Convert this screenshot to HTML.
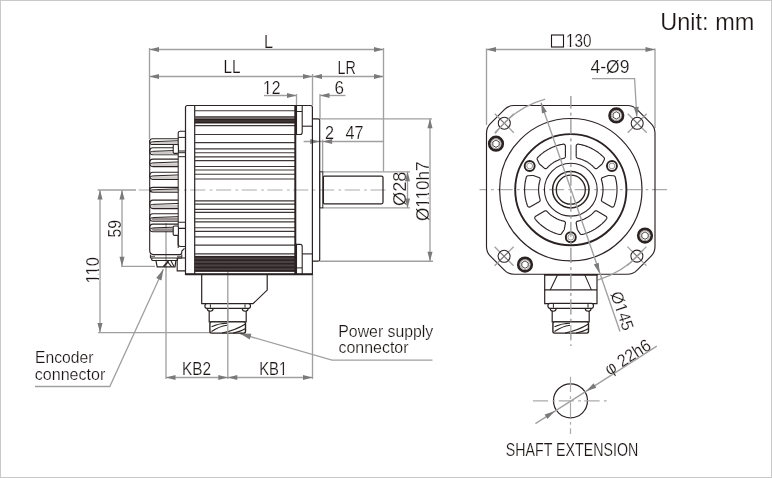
<!DOCTYPE html>
<html><head><meta charset="utf-8"><style>
html,body{margin:0;padding:0;background:#fff;width:772px;height:478px;overflow:hidden}
svg{display:block;will-change:transform}
text{font-family:"Liberation Sans", sans-serif;stroke:#fff;stroke-width:0.2px}
</style></head><body>
<svg width="772" height="478" viewBox="0 0 772 478">
<rect x="0.5" y="0.5" width="771" height="477" fill="#fff" stroke="#c9c9c9" stroke-width="1"/>
<text x="660.3" y="30.2" font-size="24" fill="#1c1515" text-anchor="start" textLength="94" lengthAdjust="spacingAndGlyphs" >Unit: mm</text>
<line x1="136" y1="190" x2="386" y2="190" stroke="#ababab" stroke-width="1.2" stroke-dasharray="15.2 4.3 2.7 3.55" stroke-dashoffset="23.05"/>
<line x1="149.5" y1="49.5" x2="383.5" y2="49.5" stroke="#a0a0a0" stroke-width="1.35" />
<polygon points="149.50,49.50 159.00,46.95 159.00,52.05" fill="#7a7a7a"/>
<polygon points="383.50,49.50 374.00,52.05 374.00,46.95" fill="#7a7a7a"/>
<text x="264" y="47.5" font-size="17.5" fill="#1c1515" text-anchor="start" textLength="9" lengthAdjust="spacingAndGlyphs" >L</text>
<line x1="149.5" y1="76.5" x2="312.5" y2="76.5" stroke="#a0a0a0" stroke-width="1.35" />
<polygon points="149.50,76.50 159.00,73.95 159.00,79.05" fill="#7a7a7a"/>
<polygon points="312.50,76.50 303.00,79.05 303.00,73.95" fill="#7a7a7a"/>
<text x="223.5" y="73.3" font-size="17.5" fill="#1c1515" text-anchor="start" textLength="17" lengthAdjust="spacingAndGlyphs" >LL</text>
<line x1="312.5" y1="76.5" x2="383.5" y2="76.5" stroke="#a0a0a0" stroke-width="1.35" />
<polygon points="312.50,76.50 322.00,73.95 322.00,79.05" fill="#7a7a7a"/>
<polygon points="383.50,76.50 374.00,79.05 374.00,73.95" fill="#7a7a7a"/>
<text x="337.6" y="74.2" font-size="17.5" fill="#1c1515" text-anchor="start" textLength="18.2" lengthAdjust="spacingAndGlyphs" >LR</text>
<line x1="264" y1="95.5" x2="296.5" y2="95.5" stroke="#a0a0a0" stroke-width="1.35" />
<polygon points="296.50,95.50 287.00,98.05 287.00,92.95" fill="#7a7a7a"/>
<text x="263" y="94.2" font-size="17.5" fill="#1c1515" text-anchor="start" textLength="17.5" lengthAdjust="spacingAndGlyphs" >12</text>
<g><rect x="263.74" y="92.19" width="3.14" height="2.24" fill="#fff"/><rect x="268.42" y="92.19" width="3.02" height="2.24" fill="#fff"/></g>
<line x1="320" y1="95.5" x2="345.5" y2="95.5" stroke="#a0a0a0" stroke-width="1.35" />
<polygon points="320.00,95.50 329.50,92.95 329.50,98.05" fill="#7a7a7a"/>
<text x="334.5" y="94.2" font-size="17.5" fill="#1c1515" text-anchor="start" textLength="9.5" lengthAdjust="spacingAndGlyphs" >6</text>
<line x1="149.5" y1="48" x2="149.5" y2="139" stroke="#a0a0a0" stroke-width="1.35" />
<line x1="383.5" y1="48" x2="383.5" y2="171.5" stroke="#a0a0a0" stroke-width="1.35" />
<line x1="312.5" y1="74" x2="312.5" y2="105.5" stroke="#a0a0a0" stroke-width="1.35" />
<line x1="296.5" y1="94" x2="296.5" y2="105.5" stroke="#a0a0a0" stroke-width="1.35" />
<line x1="320" y1="94" x2="320" y2="118.8" stroke="#a0a0a0" stroke-width="1.35" />
<line x1="303.6" y1="141.5" x2="383.5" y2="141.5" stroke="#a0a0a0" stroke-width="1.35" />
<polygon points="319.70,141.50 310.20,144.05 310.20,138.95" fill="#7a7a7a"/>
<polygon points="322.60,141.50 332.10,138.95 332.10,144.05" fill="#7a7a7a"/>
<line x1="322.6" y1="139.7" x2="322.6" y2="171.5" stroke="#a0a0a0" stroke-width="1.35" />
<text x="325" y="138.7" font-size="17.5" fill="#1c1515" text-anchor="start" textLength="9" lengthAdjust="spacingAndGlyphs" >2</text>
<text x="345.5" y="138.5" font-size="17.5" fill="#1c1515" text-anchor="start" textLength="18" lengthAdjust="spacingAndGlyphs" >47</text>
<line x1="320" y1="118.8" x2="432" y2="118.8" stroke="#a0a0a0" stroke-width="1.35" />
<line x1="320" y1="261.2" x2="433" y2="261.2" stroke="#a0a0a0" stroke-width="1.35" />
<line x1="430" y1="118.8" x2="430" y2="261.2" stroke="#a0a0a0" stroke-width="1.35" />
<polygon points="430.00,118.80 432.55,128.30 427.45,128.30" fill="#7a7a7a"/>
<polygon points="430.00,261.20 427.45,251.70 432.55,251.70" fill="#7a7a7a"/>
<line x1="322.8" y1="171.8" x2="410" y2="171.8" stroke="#a0a0a0" stroke-width="1.35" />
<line x1="322.8" y1="207.9" x2="410" y2="207.9" stroke="#a0a0a0" stroke-width="1.35" />
<line x1="407.5" y1="171.8" x2="407.5" y2="207.9" stroke="#a0a0a0" stroke-width="1.35" />
<polygon points="407.50,171.80 410.05,181.30 404.95,181.30" fill="#7a7a7a"/>
<polygon points="407.50,207.90 404.95,198.40 410.05,198.40" fill="#7a7a7a"/>
<text x="406.3" y="206" font-size="17.5" fill="#1c1515" text-anchor="start" textLength="34.5" lengthAdjust="spacingAndGlyphs" transform="rotate(-90 406.3 206)" >Ø28</text>
<text x="428.8" y="221" font-size="17.5" fill="#1c1515" text-anchor="start" textLength="59.5" lengthAdjust="spacingAndGlyphs" transform="rotate(-90 428.8 221)" >Ø110h7</text>
<g transform="rotate(-90 428.8 221)"><rect x="442.59" y="218.99" width="3.34" height="2.24" fill="#fff"/><rect x="447.57" y="218.99" width="3.21" height="2.24" fill="#fff"/><rect x="451.89" y="218.99" width="3.34" height="2.24" fill="#fff"/><rect x="456.87" y="218.99" width="3.21" height="2.24" fill="#fff"/></g>
<line x1="97.7" y1="190" x2="136" y2="190" stroke="#a0a0a0" stroke-width="1.35" />
<line x1="100" y1="190" x2="100" y2="332.5" stroke="#a0a0a0" stroke-width="1.35" />
<polygon points="100.00,190.00 102.55,199.50 97.45,199.50" fill="#7a7a7a"/>
<polygon points="100.00,332.50 97.45,323.00 102.55,323.00" fill="#7a7a7a"/>
<line x1="122" y1="190" x2="122" y2="266.3" stroke="#a0a0a0" stroke-width="1.35" />
<polygon points="122.00,190.00 124.55,199.50 119.45,199.50" fill="#7a7a7a"/>
<polygon points="122.00,266.30 119.45,256.80 124.55,256.80" fill="#7a7a7a"/>
<line x1="121" y1="266.3" x2="155" y2="266.3" stroke="#a0a0a0" stroke-width="1.35" />
<line x1="98" y1="332.6" x2="210" y2="332.6" stroke="#a0a0a0" stroke-width="1.35" />
<text x="120.5" y="237.5" font-size="17.5" fill="#1c1515" text-anchor="start" textLength="17.5" lengthAdjust="spacingAndGlyphs" transform="rotate(-90 120.5 237.5)" >59</text>
<text x="98.8" y="283.5" font-size="17.5" fill="#1c1515" text-anchor="start" textLength="26.5" lengthAdjust="spacingAndGlyphs" transform="rotate(-90 98.8 283.5)" >110</text>
<g transform="rotate(-90 98.8 283.5)"><rect x="99.54" y="281.49" width="3.17" height="2.24" fill="#fff"/><rect x="104.28" y="281.49" width="3.05" height="2.24" fill="#fff"/><rect x="108.38" y="281.49" width="3.17" height="2.24" fill="#fff"/><rect x="113.11" y="281.49" width="3.05" height="2.24" fill="#fff"/></g>
<line x1="166" y1="223" x2="166" y2="379" stroke="#a0a0a0" stroke-width="1.35" />
<line x1="227.8" y1="271" x2="227.8" y2="379" stroke="#a0a0a0" stroke-width="1.35" />
<line x1="312.5" y1="274.3" x2="312.5" y2="379" stroke="#a0a0a0" stroke-width="1.35" />
<line x1="166" y1="377.5" x2="227.8" y2="377.5" stroke="#a0a0a0" stroke-width="1.35" />
<polygon points="166.00,377.50 175.50,374.95 175.50,380.05" fill="#7a7a7a"/>
<polygon points="227.80,377.50 218.30,380.05 218.30,374.95" fill="#7a7a7a"/>
<line x1="227.8" y1="377.5" x2="312.5" y2="377.5" stroke="#a0a0a0" stroke-width="1.35" />
<polygon points="227.80,377.50 237.30,374.95 237.30,380.05" fill="#7a7a7a"/>
<polygon points="312.50,377.50 303.00,380.05 303.00,374.95" fill="#7a7a7a"/>
<text x="182" y="375" font-size="17.5" fill="#1c1515" text-anchor="start" textLength="29" lengthAdjust="spacingAndGlyphs" >KB2</text>
<text x="259.2" y="375" font-size="17.5" fill="#1c1515" text-anchor="start" textLength="28" lengthAdjust="spacingAndGlyphs" >KB1</text>
<g><rect x="279.66" y="372.99" width="2.96" height="2.24" fill="#fff"/><rect x="284.07" y="372.99" width="2.84" height="2.24" fill="#fff"/></g>
<path d="M35,386.5 H109.8 L163.4,269.3" stroke="#a0a0a0" stroke-width="1.3" fill="none" />
<polygon points="163.40,269.30 161.46,280.51 156.19,278.10" fill="#7a7a7a"/>
<path d="M432.5,360.1 H332 L240,333.6" stroke="#a0a0a0" stroke-width="1.3" fill="none" />
<polygon points="240.00,333.60 251.37,333.86 249.77,339.43" fill="#7a7a7a"/>
<text x="35" y="362.8" font-size="16.5" fill="#1c1515" text-anchor="start" textLength="58.5" lengthAdjust="spacingAndGlyphs" >Encoder</text>
<text x="34.8" y="380" font-size="16.5" fill="#1c1515" text-anchor="start" textLength="70.5" lengthAdjust="spacingAndGlyphs" >connector</text>
<text x="338.3" y="337" font-size="16.5" fill="#1c1515" text-anchor="start" textLength="95" lengthAdjust="spacingAndGlyphs" >Power supply</text>
<text x="338.5" y="352.7" font-size="16.5" fill="#1c1515" text-anchor="start" textLength="70" lengthAdjust="spacingAndGlyphs" >connector</text>
<path d="M185.5,274.3 V107.5 Q185.5,105.5 187.5,105.5 H310.4 Q312.4,105.5 312.4,107.5 V274.3 Z" stroke="#2b2323" stroke-width="1.2" fill="none" />
<line x1="194.7" y1="105.5" x2="194.7" y2="274.3" stroke="#2b2323" stroke-width="1.2" />
<line x1="194.7" y1="110.7" x2="295.3" y2="110.7" stroke="#3e3636" stroke-width="1.15" />
<line x1="194.7" y1="125.6" x2="295.3" y2="125.6" stroke="#3e3636" stroke-width="1.15" />
<line x1="194.7" y1="134.5" x2="295.3" y2="134.5" stroke="#3e3636" stroke-width="1.15" />
<line x1="194.7" y1="142.6" x2="295.3" y2="142.6" stroke="#3e3636" stroke-width="1.15" />
<line x1="194.7" y1="148.9" x2="295.3" y2="148.9" stroke="#3e3636" stroke-width="1.15" />
<line x1="194.7" y1="152.7" x2="295.3" y2="152.7" stroke="#3e3636" stroke-width="1.15" />
<line x1="194.7" y1="156.9" x2="295.3" y2="156.9" stroke="#3e3636" stroke-width="1.15" />
<line x1="194.7" y1="160.6" x2="295.3" y2="160.6" stroke="#3e3636" stroke-width="1.15" />
<line x1="194.7" y1="166.5" x2="295.3" y2="166.5" stroke="#3e3636" stroke-width="1.15" />
<line x1="194.7" y1="170" x2="295.3" y2="170" stroke="#3e3636" stroke-width="1.15" />
<line x1="194.7" y1="174.2" x2="295.3" y2="174.2" stroke="#3e3636" stroke-width="1.15" />
<line x1="194.7" y1="179" x2="295.3" y2="179" stroke="#3e3636" stroke-width="1.15" />
<line x1="194.7" y1="200.9" x2="295.3" y2="200.9" stroke="#3e3636" stroke-width="1.15" />
<line x1="194.7" y1="204.1" x2="295.3" y2="204.1" stroke="#3e3636" stroke-width="1.15" />
<line x1="194.7" y1="209.3" x2="295.3" y2="209.3" stroke="#3e3636" stroke-width="1.15" />
<line x1="194.7" y1="212.4" x2="295.3" y2="212.4" stroke="#3e3636" stroke-width="1.15" />
<line x1="194.7" y1="218.7" x2="295.3" y2="218.7" stroke="#3e3636" stroke-width="1.15" />
<line x1="194.7" y1="221.8" x2="295.3" y2="221.8" stroke="#3e3636" stroke-width="1.15" />
<line x1="194.7" y1="227.7" x2="295.3" y2="227.7" stroke="#3e3636" stroke-width="1.15" />
<line x1="194.7" y1="231.3" x2="295.3" y2="231.3" stroke="#3e3636" stroke-width="1.15" />
<line x1="194.7" y1="236.9" x2="295.3" y2="236.9" stroke="#3e3636" stroke-width="1.15" />
<line x1="194.7" y1="245.1" x2="295.3" y2="245.1" stroke="#3e3636" stroke-width="1.15" />
<line x1="194.7" y1="253.8" x2="295.3" y2="253.8" stroke="#3e3636" stroke-width="1.15" />
<rect x="194.7" y="116" width="100.6" height="2.6" fill="#6a6262"/>
<rect x="194.7" y="118.6" width="100.6" height="4.9" fill="#2a2020"/>
<rect x="194.7" y="120.4" width="100.6" height="1.2" fill="#4a4242"/>
<rect x="194.7" y="255.9" width="100.6" height="15.7" fill="#4a4242"/>
<line x1="194.7" y1="256.8" x2="295.3" y2="256.8" stroke="#2b2323" stroke-width="1.6" />
<line x1="194.7" y1="260.2" x2="295.3" y2="260.2" stroke="#2b2323" stroke-width="1.6" />
<line x1="194.7" y1="263.8" x2="295.3" y2="263.8" stroke="#2b2323" stroke-width="1.6" />
<line x1="194.7" y1="267.4" x2="295.3" y2="267.4" stroke="#2b2323" stroke-width="1.6" />
<line x1="194.7" y1="270.9" x2="295.3" y2="270.9" stroke="#2b2323" stroke-width="1.6" />
<line x1="185.5" y1="274.3" x2="312.4" y2="274.3" stroke="#2b2323" stroke-width="2" />
<line x1="295.3" y1="105.5" x2="295.3" y2="274.3" stroke="#2b2323" stroke-width="2" />
<path d="M296.5,105.8 V134.5 H300.2 Q302.2,134.5 302.2,132.5 V105.8" stroke="#2b2323" stroke-width="1.1" fill="none" />
<line x1="296.5" y1="111.5" x2="302.2" y2="111.5" stroke="#2b2323" stroke-width="1" />
<path d="M296.5,274.3 V244.4 H300.2 Q302.2,244.4 302.2,246.4 V274.3" stroke="#2b2323" stroke-width="1.1" fill="none" />
<line x1="296.5" y1="267.9" x2="302.2" y2="267.9" stroke="#2b2323" stroke-width="1" />
<line x1="302.2" y1="126.2" x2="312.4" y2="126.2" stroke="#2b2323" stroke-width="1.1" />
<line x1="302.2" y1="253.9" x2="312.4" y2="253.9" stroke="#2b2323" stroke-width="1.1" />
<path d="M312.4,118.8 H318.2 Q319.7,118.8 319.7,120.3 V259.7 Q319.7,261.2 318.2,261.2 H312.4" stroke="#2b2323" stroke-width="1.2" fill="none" />
<rect x="319.7" y="171.8" width="3.1" height="36.1" fill="none" stroke="#2b2323" stroke-width="1"/>
<path d="M323.4,177 Q323.4,176 324.4,176 H381.5 Q383,176 383,177.5 V202.3 Q383,203.8 381.5,203.8 H324.4 Q323.4,203.8 323.4,202.8 Z" stroke="#2b2323" stroke-width="1.25" fill="none" />
<path d="M178.2,138.8 H153 Q149.7,138.8 149.7,141.65 Q149.7,144.5 153,144.5 H178.2" stroke="#2b2323" stroke-width="1.1" fill="none" />
<path d="M151.5,141.95000000000002 H178.2 V143.9 H153 Q151.5,143.9 151.5,141.95000000000002 Z" fill="#cfcaca"/>
<path d="M150.3,142.45000000000002 Q152,141.45000000000002 156,141.55 L178.2,140.75" stroke="#2b2323" stroke-width="1.0" fill="none" />
<path d="M178.2,147.8 H153 Q149.7,147.8 149.7,151.3 Q149.7,154.8 153,154.8 H178.2" stroke="#2b2323" stroke-width="1.1" fill="none" />
<path d="M151.5,151.60000000000002 H178.2 V154.20000000000002 H153 Q151.5,154.20000000000002 151.5,151.60000000000002 Z" fill="#cfcaca"/>
<path d="M150.3,152.10000000000002 Q152,151.10000000000002 156,151.20000000000002 L178.2,150.4" stroke="#2b2323" stroke-width="1.0" fill="none" />
<path d="M178.2,159.1 H153 Q149.7,159.1 149.7,162.85 Q149.7,166.6 153,166.6 H178.2" stroke="#2b2323" stroke-width="1.1" fill="none" />
<path d="M151.5,163.15 H178.2 V166.0 H153 Q151.5,166.0 151.5,163.15 Z" fill="#cfcaca"/>
<path d="M150.3,163.65 Q152,162.65 156,162.75 L178.2,161.95" stroke="#2b2323" stroke-width="1.0" fill="none" />
<path d="M178.2,172.3 H153 Q149.7,172.3 149.7,175.85000000000002 Q149.7,179.4 153,179.4 H178.2" stroke="#2b2323" stroke-width="1.1" fill="none" />
<path d="M151.5,176.15000000000003 H178.2 V178.8 H153 Q151.5,178.8 151.5,176.15000000000003 Z" fill="#cfcaca"/>
<path d="M150.3,176.65000000000003 Q152,175.65000000000003 156,175.75000000000003 L178.2,174.95000000000002" stroke="#2b2323" stroke-width="1.0" fill="none" />
<path d="M178.2,187.4 H153 Q149.7,187.4 149.7,189.75 Q149.7,192.1 153,192.1 H178.2" stroke="#2b2323" stroke-width="1.1" fill="none" />
<path d="M151.5,190.05 H178.2 V191.5 H153 Q151.5,191.5 151.5,190.05 Z" fill="#cfcaca"/>
<path d="M150.3,190.55 Q152,189.55 156,189.65 L178.2,188.85" stroke="#2b2323" stroke-width="1.0" fill="none" />
<path d="M178.2,200.1 H153 Q149.7,200.1 149.7,204.35 Q149.7,208.6 153,208.6 H178.2" stroke="#2b2323" stroke-width="1.1" fill="none" />
<path d="M151.5,204.65 H178.2 V208.0 H153 Q151.5,208.0 151.5,204.65 Z" fill="#cfcaca"/>
<path d="M150.3,205.15 Q152,204.15 156,204.25 L178.2,203.45" stroke="#2b2323" stroke-width="1.0" fill="none" />
<path d="M178.2,213.8 H153 Q149.7,213.8 149.7,217.55 Q149.7,221.3 153,221.3 H178.2" stroke="#2b2323" stroke-width="1.1" fill="none" />
<path d="M151.5,217.85000000000002 H178.2 V220.70000000000002 H153 Q151.5,220.70000000000002 151.5,217.85000000000002 Z" fill="#9a9292"/>
<path d="M150.3,218.35000000000002 Q152,217.35000000000002 156,217.45000000000002 L178.2,216.65" stroke="#2b2323" stroke-width="1.0" fill="none" />
<path d="M178.2,224.1 H153 Q149.7,224.1 149.7,227.89999999999998 Q149.7,231.7 153,231.7 H178.2" stroke="#2b2323" stroke-width="1.1" fill="none" />
<path d="M151.5,228.2 H178.2 V231.1 H153 Q151.5,231.1 151.5,228.2 Z" fill="#9a9292"/>
<path d="M150.3,228.7 Q152,227.7 156,227.79999999999998 L178.2,226.99999999999997" stroke="#2b2323" stroke-width="1.0" fill="none" />
<path d="M149.7,232 V250.6 Q149.7,254.6 153.7,254.6 H179.8 Q181.8,254.6 181.8,252.6 V251 L184.5,248.3" stroke="#2b2323" stroke-width="1.1" fill="none" />
<line x1="149.7" y1="140" x2="149.7" y2="232" stroke="#2b2323" stroke-width="1.1" />
<line x1="178.2" y1="144.5" x2="178.2" y2="248" stroke="#2b2323" stroke-width="1.0" />
<path d="M178.2,151 V133.3 Q178.2,131.3 180.2,131.3 H185.5 V151 Z" stroke="#2b2323" stroke-width="1.1" fill="none" />
<line x1="178.2" y1="137.4" x2="185.5" y2="137.4" stroke="#2b2323" stroke-width="1" />
<line x1="178.2" y1="152.7" x2="185.5" y2="152.7" stroke="#2b2323" stroke-width="1" />
<line x1="178.2" y1="156.7" x2="185.5" y2="156.7" stroke="#2b2323" stroke-width="1" />
<rect x="173.2" y="144.5" width="5.2" height="8.9" rx="1.2" fill="#fff" stroke="#2b2323" stroke-width="1.1"/>
<path d="M178.2,222.2 H185.5 M178.2,228.4 H185.5 M178.2,228.4 V244 Q178.2,246.5 180.7,246.5 H185.5" stroke="#2b2323" stroke-width="1.1" fill="none" />
<rect x="173.2" y="226" width="5.2" height="9.4" rx="1.2" fill="#fff" stroke="#2b2323" stroke-width="1.1"/>
<path d="M177.2,258 H185.5 M177.2,258 V270.9 H185.5" stroke="#2b2323" stroke-width="1.1" fill="none" />
<path d="M150.4,254.6 V258 H181.8 V254.6" stroke="#2b2323" stroke-width="1.0" fill="none" />
<path d="M150.4,256.3 H155 M177,256.3 H181.8" stroke="#2b2323" stroke-width="0.8" fill="none" />
<path d="M151.7,258 V259.5 Q151.7,260.5 153,260.5 H176.3 Q177.6,260.5 177.6,259.5 V258" stroke="#2b2323" stroke-width="1.1" fill="none" />
<path d="M155.9,260.5 L157.2,266.8 H175 L175.9,260.5" stroke="#2b2323" stroke-width="1.2" fill="none" />
<path d="M163.5,266.6 L168.5,261.2" stroke="#2b2323" stroke-width="1.6" fill="none" />
<path d="M167,261 L171.5,266.6 M171,261 L174,266.5" stroke="#2b2323" stroke-width="1.1" fill="none" />
<path d="M201.7,274.3 V303.7 H253 L267.2,290.1 V274.3" stroke="#2b2323" stroke-width="1.2" fill="none" />
<path d="M206.89999999999998,303.7 H248.5 Q250.5,303.7 250.5,306.0 Q250.5,308.3 248.5,308.3 H206.89999999999998 Q204.89999999999998,308.3 204.89999999999998,306.0 Q204.89999999999998,303.7 206.89999999999998,303.7 Z" stroke="#2b2323" stroke-width="1.2" fill="#fff" />
<line x1="210.39999999999998" y1="304.3" x2="210.39999999999998" y2="307.7" stroke="#2b2323" stroke-width="1" />
<line x1="245.0" y1="304.3" x2="245.0" y2="307.7" stroke="#2b2323" stroke-width="1" />
<path d="M207.2,308.3 Q207.2,311.3 210.2,311.3 Q213.2,311.3 213.2,308.3" stroke="#2b2323" stroke-width="1.1" fill="none" />
<path d="M242.2,308.3 Q242.2,311.3 245.2,311.3 Q248.2,311.3 248.2,308.3" stroke="#2b2323" stroke-width="1.1" fill="none" />
<path d="M209.2,310.8 V321.9 H246.2 V310.8" stroke="#2b2323" stroke-width="1.2" fill="none" />
<path d="M211.7,321.9 H243.7 Q245.5,321.9 245.5,323.7 V331.3 Q245.5,333.1 243.7,333.1 H211.7 Q209.89999999999998,333.1 209.89999999999998,331.3 V323.7 Q209.89999999999998,321.9 211.7,321.9 Z" stroke="#2b2323" stroke-width="1.4" fill="#fff" />
<path d="M211.5,326.8 Q219.0,323.3 227.0,323.3 M211.5,331.5 Q219.0,326.5 227.0,325.3 M222.0,333 Q236.0,330 245.0,324.2 M233.0,333 Q241.0,331.5 245.0,328.8" stroke="#2b2323" stroke-width="1.1" fill="none" />
<line x1="227.8" y1="303" x2="227.8" y2="334" stroke="#a0a0a0" stroke-width="1.3" />
<line x1="479.5" y1="189.7" x2="667.8" y2="189.7" stroke="#ababab" stroke-width="1.2" stroke-dasharray="15.2 4.3 2.7 3.55" stroke-dashoffset="7.85"/>
<line x1="570.8" y1="96" x2="570.8" y2="346" stroke="#ababab" stroke-width="1.2" stroke-dasharray="15.2 4.3 2.7 3.55" stroke-dashoffset="2.65"/>
<line x1="486.5" y1="49.5" x2="655" y2="49.5" stroke="#a0a0a0" stroke-width="1.35" />
<polygon points="486.50,49.50 496.00,46.95 496.00,52.05" fill="#7a7a7a"/>
<polygon points="655.00,49.50 645.50,52.05 645.50,46.95" fill="#7a7a7a"/>
<line x1="486.5" y1="48.5" x2="486.5" y2="125" stroke="#a0a0a0" stroke-width="1.35" />
<line x1="655" y1="48.5" x2="655" y2="128" stroke="#a0a0a0" stroke-width="1.35" />
<rect x="551.5" y="35" width="12" height="12" fill="none" stroke="#1c1515" stroke-width="1.1"/>
<text x="566" y="47.3" font-size="17.5" fill="#1c1515" text-anchor="start" textLength="25.5" lengthAdjust="spacingAndGlyphs" >130</text>
<g><rect x="566.72" y="45.29" width="3.05" height="2.24" fill="#fff"/><rect x="571.27" y="45.29" width="2.93" height="2.24" fill="#fff"/></g>
<text x="590.5" y="73.4" font-size="17.5" fill="#1c1515" text-anchor="start" textLength="39" lengthAdjust="spacingAndGlyphs" >4-Ø9</text>
<path d="M504.61,109.39 Q508.5,105.5 514.00,105.50 L627.50,105.50 Q633,105.5 636.89,109.39 L651.11,123.61 Q655,127.5 655.00,133.00 L655.00,246.70 Q655,252.2 651.11,256.09 L636.89,270.31 Q633,274.2 627.50,274.20 L514.00,274.20 Q508.5,274.2 504.61,270.31 L490.39,256.09 Q486.5,252.2 486.50,246.70 L486.50,133.00 Q486.5,127.5 490.39,123.61 Z" stroke="#2b2323" stroke-width="1.15" fill="none" />
<circle cx="570.8" cy="189.7" r="71.2" stroke="#2b2323" stroke-width="1.2" fill="none"/>
<circle cx="570.8" cy="189.7" r="55.6" stroke="#2b2323" stroke-width="1.9" fill="none"/>
<circle cx="570.8" cy="189.7" r="26.4" stroke="#2b2323" stroke-width="1.1" fill="none"/>
<circle cx="570.8" cy="189.7" r="18.2" stroke="#2b2323" stroke-width="1.5" fill="none"/>
<circle cx="570.8" cy="189.7" r="14.5" stroke="#2b2323" stroke-width="1.3" fill="none"/>
<path d="M601.49,179.96 L601.44,179.78 L601.41,179.59 L601.40,179.39 L601.41,179.20 L601.43,179.01 L601.48,178.82 L601.54,178.64 L601.62,178.46 L601.71,178.29 L601.82,178.14 L601.95,177.99 L602.09,177.86 L602.24,177.74 L602.40,177.63 L602.57,177.54 L602.75,177.47 L608.33,175.56 L608.52,175.51 L608.71,175.47 L608.90,175.46 L609.10,175.46 L613.46,175.72 L613.65,175.74 L613.84,175.78 L614.02,175.84 L614.19,175.91 L614.36,176.00 L614.52,176.10 L614.67,176.22 L614.80,176.35 L614.93,176.50 L615.04,176.65 L615.13,176.82 L615.21,176.99 L615.27,177.17 L615.33,177.41 L615.34,177.44 L615.55,178.22 L615.56,178.26 L615.75,179.04 L615.76,179.08 L615.94,179.86 L615.95,179.90 L616.11,180.69 L616.12,180.72 L616.27,181.52 L616.28,181.55 L616.41,182.35 L616.42,182.39 L616.54,183.18 L616.54,183.22 L616.65,184.02 L616.65,184.05 L616.75,184.86 L616.75,184.89 L616.83,185.70 L616.83,185.73 L616.89,186.54 L616.89,186.57 L616.94,187.38 L616.94,187.41 L616.98,188.22 L616.98,188.26 L617.00,189.06 L617.00,189.10 L617.00,189.91 L617.00,189.94 L616.99,190.75 L616.99,190.79 L616.96,191.59 L616.96,191.63 L616.92,192.44 L616.92,192.47 L616.86,193.28 L616.86,193.31 L616.79,194.12 L616.78,194.15 L616.70,194.96 L616.70,194.99 L616.60,195.79 L616.59,195.83 L616.48,196.63 L616.47,196.66 L616.34,197.46 L616.34,197.50 L616.19,198.29 L616.19,198.33 L616.03,199.12 L616.02,199.15 L615.85,199.94 L615.84,199.98 L615.66,200.76 L615.65,200.80 L615.45,201.58 L615.44,201.61 L615.22,202.39 L615.21,202.43 L614.98,203.20 L614.97,203.23 L614.73,204.00 L614.72,204.04 L614.46,204.80 L614.45,204.84 L614.18,205.60 L614.17,205.63 L614.11,205.78 L614.03,205.96 L613.94,206.13 L613.83,206.29 L613.71,206.44 L613.57,206.57 L613.42,206.69 L613.26,206.80 L613.09,206.89 L612.91,206.96 L612.73,207.02 L612.54,207.06 L612.35,207.08 L612.15,207.08 L611.96,207.06 L611.77,207.02 L611.59,206.97 L611.41,206.90 L611.24,206.81 L602.42,201.72 L602.25,201.61 L602.10,201.49 L601.96,201.36 L601.84,201.21 L601.72,201.05 L601.63,200.88 L601.55,200.71 L601.49,200.52 L601.45,200.33 L601.42,200.14 L601.42,199.95 L601.43,199.76 L601.46,199.57 L601.51,199.38 L601.56,199.21 L601.57,199.19 L601.73,198.64 L601.74,198.62 L601.90,198.06 L601.90,198.04 L602.04,197.48 L602.05,197.47 L602.18,196.90 L602.19,196.89 L602.31,196.32 L602.32,196.30 L602.43,195.74 L602.43,195.72 L602.54,195.15 L602.54,195.13 L602.63,194.56 L602.63,194.54 L602.72,193.97 L602.72,193.95 L602.79,193.38 L602.79,193.36 L602.85,192.78 L602.85,192.77 L602.90,192.19 L602.90,192.17 L602.94,191.59 L602.95,191.58 L602.97,191.00 L602.97,190.98 L602.99,190.40 L602.99,190.38 L603.00,189.80 L603.00,189.79 L603.00,189.21 L603.00,189.19 L602.98,188.61 L602.98,188.59 L602.96,188.02 L602.95,188.00 L602.92,187.42 L602.92,187.40 L602.87,186.83 L602.87,186.81 L602.81,186.23 L602.81,186.21 L602.74,185.64 L602.74,185.62 L602.66,185.05 L602.66,185.03 L602.57,184.46 L602.57,184.44 L602.47,183.87 L602.46,183.85 L602.35,183.28 L602.35,183.27 L602.23,182.70 L602.23,182.68 L602.09,182.12 L602.09,182.10 L601.95,181.54 L601.94,181.52 L601.79,180.96 L601.79,180.95 L601.63,180.39 L601.62,180.37 L601.49,179.96 Z" stroke="#2b2323" stroke-width="1.15" fill="none" />
<path d="M577.77,158.27 L577.59,158.22 L577.41,158.15 L577.23,158.06 L577.07,157.96 L576.91,157.84 L576.77,157.71 L576.64,157.57 L576.53,157.41 L576.43,157.24 L576.35,157.07 L576.28,156.88 L576.24,156.70 L576.21,156.50 L576.20,156.31 L576.20,146.13 L576.21,145.93 L576.24,145.74 L576.28,145.56 L576.35,145.37 L576.43,145.20 L576.52,145.03 L576.64,144.88 L576.76,144.73 L576.91,144.60 L577.06,144.48 L577.22,144.38 L577.39,144.29 L577.57,144.23 L577.76,144.17 L577.95,144.14 L578.14,144.13 L578.33,144.13 L578.52,144.15 L578.69,144.18 L578.72,144.18 L579.51,144.33 L579.55,144.34 L580.34,144.50 L580.38,144.50 L581.16,144.68 L581.20,144.69 L581.98,144.87 L582.02,144.88 L582.80,145.09 L582.84,145.10 L583.61,145.31 L583.65,145.32 L584.42,145.55 L584.46,145.56 L585.22,145.81 L585.26,145.82 L586.02,146.08 L586.06,146.09 L586.82,146.37 L586.85,146.38 L587.61,146.67 L587.64,146.68 L588.39,146.98 L588.42,146.99 L589.17,147.31 L589.20,147.32 L589.94,147.65 L589.97,147.66 L590.70,148.01 L590.73,148.02 L591.46,148.38 L591.49,148.39 L592.21,148.76 L592.24,148.78 L592.95,149.16 L592.98,149.17 L593.69,149.57 L593.72,149.59 L594.42,149.99 L594.45,150.01 L595.14,150.43 L595.17,150.45 L595.85,150.88 L595.88,150.90 L596.56,151.35 L596.59,151.37 L597.25,151.82 L597.28,151.84 L597.94,152.31 L597.97,152.33 L598.62,152.81 L598.64,152.83 L599.28,153.33 L599.31,153.35 L599.94,153.85 L599.97,153.87 L600.59,154.39 L600.62,154.41 L601.23,154.94 L601.26,154.96 L601.86,155.50 L601.89,155.53 L602.48,156.07 L602.51,156.10 L603.09,156.66 L603.12,156.68 L603.69,157.25 L603.71,157.28 L603.88,157.45 L604.01,157.60 L604.12,157.75 L604.22,157.91 L604.30,158.09 L604.36,158.26 L604.41,158.45 L604.44,158.64 L604.45,158.82 L604.44,159.01 L604.42,159.20 L604.37,159.39 L604.31,159.57 L604.24,159.74 L602.28,163.65 L602.19,163.82 L602.07,163.98 L601.95,164.13 L601.81,164.26 L597.36,168.14 L597.21,168.26 L597.05,168.37 L596.88,168.45 L596.70,168.53 L596.52,168.58 L596.33,168.62 L596.13,168.63 L595.94,168.63 L595.75,168.61 L595.56,168.57 L595.38,168.52 L595.20,168.44 L595.03,168.35 L594.87,168.25 L594.72,168.12 L594.58,167.99 L594.29,167.67 L594.27,167.66 L593.87,167.24 L593.86,167.23 L593.45,166.82 L593.44,166.80 L593.03,166.40 L593.01,166.39 L592.59,165.99 L592.58,165.98 L592.15,165.59 L592.13,165.58 L591.70,165.20 L591.68,165.19 L591.24,164.82 L591.23,164.81 L590.77,164.44 L590.76,164.43 L590.30,164.08 L590.29,164.07 L589.83,163.72 L589.81,163.71 L589.34,163.37 L589.33,163.36 L588.85,163.03 L588.83,163.02 L588.35,162.70 L588.34,162.69 L587.85,162.38 L587.83,162.37 L587.34,162.07 L587.32,162.06 L586.83,161.77 L586.81,161.76 L586.30,161.48 L586.29,161.47 L585.78,161.20 L585.76,161.19 L585.25,160.92 L585.23,160.92 L584.71,160.66 L584.70,160.65 L584.17,160.41 L584.16,160.40 L583.63,160.17 L583.61,160.16 L583.08,159.93 L583.06,159.93 L582.52,159.71 L582.51,159.70 L581.97,159.50 L581.95,159.49 L581.40,159.30 L581.39,159.29 L580.84,159.10 L580.82,159.10 L580.27,158.92 L580.25,158.92 L579.70,158.75 L579.68,158.75 L579.12,158.59 L579.11,158.59 L578.55,158.45 L578.53,158.44 L577.96,158.31 L577.95,158.30 L577.77,158.27 Z" stroke="#2b2323" stroke-width="1.15" fill="none" />
<path d="M537.36,159.74 L537.29,159.57 L537.23,159.39 L537.18,159.20 L537.16,159.01 L537.15,158.82 L537.16,158.64 L537.19,158.45 L537.24,158.26 L537.30,158.09 L537.38,157.91 L537.48,157.75 L537.59,157.60 L537.72,157.45 L537.89,157.28 L537.91,157.25 L538.48,156.68 L538.51,156.66 L539.09,156.10 L539.12,156.07 L539.71,155.53 L539.74,155.50 L540.34,154.96 L540.37,154.94 L540.98,154.41 L541.01,154.39 L541.63,153.87 L541.66,153.85 L542.29,153.35 L542.32,153.33 L542.96,152.83 L542.98,152.81 L543.63,152.33 L543.66,152.31 L544.32,151.84 L544.35,151.82 L545.01,151.37 L545.04,151.35 L545.72,150.90 L545.75,150.88 L546.43,150.45 L546.46,150.43 L547.15,150.01 L547.18,149.99 L547.88,149.59 L547.91,149.57 L548.62,149.17 L548.65,149.16 L549.36,148.78 L549.39,148.76 L550.11,148.39 L550.14,148.38 L550.87,148.02 L550.90,148.01 L551.63,147.66 L551.66,147.65 L552.40,147.32 L552.43,147.31 L553.18,146.99 L553.21,146.98 L553.96,146.68 L553.99,146.67 L554.75,146.38 L554.78,146.37 L555.54,146.09 L555.58,146.08 L556.34,145.82 L556.38,145.81 L557.14,145.56 L557.18,145.55 L557.95,145.32 L557.99,145.31 L558.76,145.10 L558.80,145.09 L559.58,144.88 L559.62,144.87 L560.40,144.69 L560.44,144.68 L561.22,144.50 L561.26,144.50 L562.05,144.34 L562.09,144.33 L562.88,144.18 L562.91,144.18 L563.08,144.15 L563.27,144.13 L563.46,144.13 L563.65,144.14 L563.84,144.17 L564.03,144.23 L564.21,144.29 L564.38,144.38 L564.54,144.48 L564.69,144.60 L564.84,144.73 L564.96,144.88 L565.08,145.03 L565.17,145.20 L565.25,145.37 L565.32,145.56 L565.36,145.74 L565.39,145.93 L565.40,146.13 L565.40,156.31 L565.39,156.50 L565.36,156.70 L565.32,156.88 L565.25,157.07 L565.17,157.24 L565.07,157.41 L564.96,157.57 L564.83,157.71 L564.69,157.84 L564.53,157.96 L564.37,158.06 L564.19,158.15 L564.01,158.22 L563.83,158.27 L563.65,158.30 L563.64,158.31 L563.07,158.44 L563.05,158.45 L562.49,158.59 L562.48,158.59 L561.92,158.75 L561.90,158.75 L561.35,158.92 L561.33,158.92 L560.78,159.10 L560.76,159.10 L560.21,159.29 L560.20,159.30 L559.65,159.49 L559.63,159.50 L559.09,159.70 L559.08,159.71 L558.54,159.93 L558.52,159.93 L557.99,160.16 L557.97,160.17 L557.44,160.40 L557.43,160.41 L556.90,160.65 L556.89,160.66 L556.37,160.92 L556.35,160.92 L555.84,161.19 L555.82,161.20 L555.31,161.47 L555.30,161.48 L554.79,161.76 L554.77,161.77 L554.28,162.06 L554.26,162.07 L553.77,162.37 L553.75,162.38 L553.26,162.69 L553.25,162.70 L552.77,163.02 L552.75,163.03 L552.27,163.36 L552.26,163.37 L551.79,163.71 L551.77,163.72 L551.31,164.07 L551.30,164.08 L550.84,164.43 L550.83,164.44 L550.37,164.81 L550.36,164.82 L549.92,165.19 L549.90,165.20 L549.47,165.58 L549.45,165.59 L549.02,165.98 L549.01,165.99 L548.59,166.39 L548.57,166.40 L548.16,166.80 L548.15,166.82 L547.74,167.23 L547.73,167.24 L547.33,167.66 L547.31,167.67 L547.02,167.99 L546.88,168.12 L546.73,168.25 L546.57,168.35 L546.40,168.44 L546.22,168.52 L546.04,168.57 L545.85,168.61 L545.66,168.63 L545.47,168.63 L545.27,168.62 L545.08,168.58 L544.90,168.53 L544.72,168.45 L544.55,168.37 L544.39,168.26 L544.24,168.14 L539.79,164.26 L539.65,164.13 L539.53,163.98 L539.41,163.82 L539.32,163.65 L537.36,159.74 Z" stroke="#2b2323" stroke-width="1.15" fill="none" />
<path d="M526.33,177.17 L526.39,176.99 L526.47,176.82 L526.56,176.65 L526.67,176.50 L526.80,176.35 L526.93,176.22 L527.08,176.10 L527.24,176.00 L527.41,175.91 L527.58,175.84 L527.76,175.78 L527.95,175.74 L528.14,175.72 L532.50,175.46 L532.70,175.46 L532.89,175.47 L533.08,175.51 L533.27,175.56 L538.85,177.47 L539.03,177.54 L539.20,177.63 L539.36,177.74 L539.51,177.86 L539.65,177.99 L539.78,178.14 L539.89,178.29 L539.98,178.46 L540.06,178.64 L540.12,178.82 L540.17,179.01 L540.19,179.20 L540.20,179.39 L540.19,179.59 L540.16,179.78 L540.11,179.96 L539.98,180.37 L539.97,180.39 L539.81,180.95 L539.81,180.96 L539.66,181.52 L539.65,181.54 L539.51,182.10 L539.51,182.12 L539.37,182.68 L539.37,182.70 L539.25,183.27 L539.25,183.28 L539.14,183.85 L539.13,183.87 L539.03,184.44 L539.03,184.46 L538.94,185.03 L538.94,185.05 L538.86,185.62 L538.86,185.64 L538.79,186.21 L538.79,186.23 L538.73,186.81 L538.73,186.83 L538.68,187.40 L538.68,187.42 L538.65,188.00 L538.64,188.02 L538.62,188.59 L538.62,188.61 L538.60,189.19 L538.60,189.21 L538.60,189.79 L538.60,189.80 L538.61,190.38 L538.61,190.40 L538.63,190.98 L538.63,191.00 L538.65,191.58 L538.66,191.59 L538.70,192.17 L538.70,192.19 L538.75,192.77 L538.75,192.78 L538.81,193.36 L538.81,193.38 L538.88,193.95 L538.88,193.97 L538.97,194.54 L538.97,194.56 L539.06,195.13 L539.06,195.15 L539.17,195.72 L539.17,195.74 L539.28,196.30 L539.29,196.32 L539.41,196.89 L539.42,196.90 L539.55,197.47 L539.56,197.48 L539.70,198.04 L539.70,198.06 L539.86,198.62 L539.87,198.64 L540.03,199.19 L540.04,199.21 L540.09,199.38 L540.14,199.57 L540.17,199.76 L540.18,199.95 L540.18,200.14 L540.15,200.33 L540.11,200.52 L540.05,200.71 L539.97,200.88 L539.88,201.05 L539.76,201.21 L539.64,201.36 L539.50,201.49 L539.35,201.61 L539.18,201.72 L530.36,206.81 L530.19,206.90 L530.01,206.97 L529.83,207.02 L529.64,207.06 L529.45,207.08 L529.25,207.08 L529.06,207.06 L528.87,207.02 L528.69,206.96 L528.51,206.89 L528.34,206.80 L528.18,206.69 L528.03,206.57 L527.89,206.44 L527.77,206.29 L527.66,206.13 L527.57,205.96 L527.49,205.78 L527.43,205.63 L527.42,205.60 L527.15,204.84 L527.14,204.80 L526.88,204.04 L526.87,204.00 L526.63,203.23 L526.62,203.20 L526.39,202.43 L526.38,202.39 L526.16,201.61 L526.15,201.58 L525.95,200.80 L525.94,200.76 L525.76,199.98 L525.75,199.94 L525.58,199.15 L525.57,199.12 L525.41,198.33 L525.41,198.29 L525.26,197.50 L525.26,197.46 L525.13,196.66 L525.12,196.63 L525.01,195.83 L525.00,195.79 L524.90,194.99 L524.90,194.96 L524.82,194.15 L524.81,194.12 L524.74,193.31 L524.74,193.28 L524.68,192.47 L524.68,192.44 L524.64,191.63 L524.64,191.59 L524.61,190.79 L524.61,190.75 L524.60,189.94 L524.60,189.91 L524.60,189.10 L524.60,189.06 L524.62,188.26 L524.62,188.22 L524.66,187.41 L524.66,187.38 L524.71,186.57 L524.71,186.54 L524.77,185.73 L524.77,185.70 L524.85,184.89 L524.85,184.86 L524.95,184.05 L524.95,184.02 L525.06,183.22 L525.06,183.18 L525.18,182.39 L525.19,182.35 L525.32,181.55 L525.33,181.52 L525.48,180.72 L525.49,180.69 L525.65,179.90 L525.66,179.86 L525.84,179.08 L525.85,179.04 L526.04,178.26 L526.05,178.22 L526.26,177.44 L526.27,177.41 L526.33,177.17 Z" stroke="#2b2323" stroke-width="1.15" fill="none" />
<path d="M535.22,219.16 L535.10,219.01 L535.00,218.84 L534.92,218.67 L534.85,218.49 L534.80,218.30 L534.77,218.11 L534.76,217.92 L534.77,217.73 L534.80,217.54 L534.84,217.35 L534.90,217.17 L534.98,216.99 L535.07,216.82 L535.19,216.67 L535.31,216.52 L535.45,216.39 L535.60,216.27 L535.76,216.16 L544.58,211.07 L544.76,210.98 L544.94,210.91 L545.12,210.86 L545.31,210.82 L545.51,210.80 L545.70,210.81 L545.89,210.83 L546.08,210.87 L546.27,210.92 L546.45,211.00 L546.62,211.09 L546.78,211.20 L546.93,211.32 L547.06,211.46 L547.18,211.59 L547.20,211.60 L547.59,212.02 L547.61,212.03 L548.01,212.45 L548.02,212.46 L548.44,212.87 L548.45,212.88 L548.87,213.28 L548.88,213.29 L549.31,213.68 L549.32,213.69 L549.76,214.07 L549.77,214.09 L550.21,214.46 L550.23,214.47 L550.68,214.84 L550.69,214.85 L551.14,215.20 L551.16,215.22 L551.62,215.56 L551.64,215.58 L552.10,215.92 L552.12,215.93 L552.59,216.26 L552.61,216.27 L553.09,216.59 L553.10,216.60 L553.59,216.91 L553.60,216.92 L554.10,217.23 L554.11,217.24 L554.61,217.53 L554.63,217.54 L555.13,217.83 L555.14,217.84 L555.65,218.11 L555.67,218.12 L556.18,218.39 L556.20,218.40 L556.72,218.66 L556.73,218.66 L557.25,218.91 L557.27,218.92 L557.80,219.16 L557.81,219.17 L558.35,219.39 L558.36,219.40 L558.90,219.62 L558.92,219.63 L559.45,219.84 L559.47,219.84 L560.02,220.04 L560.03,220.05 L560.58,220.23 L560.60,220.24 L561.15,220.42 L561.16,220.42 L561.72,220.59 L561.74,220.60 L562.29,220.76 L562.31,220.76 L562.87,220.91 L562.89,220.91 L563.45,221.05 L563.47,221.05 L563.89,221.15 L564.07,221.20 L564.25,221.27 L564.43,221.35 L564.59,221.46 L564.74,221.57 L564.88,221.71 L565.01,221.85 L565.12,222.01 L565.22,222.17 L565.30,222.35 L565.37,222.53 L565.41,222.72 L565.44,222.91 L565.45,223.10 L565.44,223.29 L565.41,223.48 L564.28,229.27 L564.23,229.46 L564.16,229.64 L564.08,229.82 L563.98,229.99 L561.57,233.64 L561.46,233.79 L561.33,233.93 L561.20,234.06 L561.05,234.18 L560.88,234.28 L560.72,234.36 L560.54,234.43 L560.36,234.48 L560.17,234.52 L559.98,234.53 L559.79,234.53 L559.60,234.51 L559.42,234.47 L559.18,234.41 L559.14,234.40 L558.36,234.19 L558.33,234.18 L557.55,233.96 L557.52,233.95 L556.75,233.71 L556.71,233.70 L555.95,233.45 L555.91,233.44 L555.15,233.17 L555.12,233.16 L554.36,232.88 L554.33,232.86 L553.58,232.57 L553.54,232.56 L552.80,232.25 L552.76,232.23 L552.02,231.91 L551.99,231.90 L551.25,231.56 L551.22,231.55 L550.49,231.20 L550.46,231.18 L549.74,230.82 L549.71,230.80 L548.99,230.43 L548.96,230.41 L548.25,230.02 L548.22,230.01 L547.52,229.61 L547.49,229.59 L546.80,229.17 L546.77,229.16 L546.08,228.73 L546.05,228.71 L545.37,228.27 L545.34,228.25 L544.67,227.80 L544.64,227.78 L543.98,227.32 L543.95,227.30 L543.30,226.82 L543.27,226.80 L542.63,226.31 L542.60,226.29 L541.96,225.79 L541.93,225.77 L541.31,225.26 L541.28,225.24 L540.66,224.72 L540.64,224.69 L540.03,224.16 L540.00,224.14 L539.41,223.59 L539.38,223.57 L538.79,223.02 L538.77,222.99 L538.19,222.43 L538.16,222.40 L537.60,221.83 L537.57,221.80 L537.02,221.21 L536.99,221.19 L536.45,220.59 L536.42,220.56 L535.89,219.96 L535.87,219.93 L535.34,219.32 L535.32,219.29 L535.22,219.16 Z" stroke="#2b2323" stroke-width="1.15" fill="none" />
<path d="M576.19,223.48 L576.16,223.29 L576.15,223.10 L576.16,222.91 L576.19,222.72 L576.23,222.53 L576.30,222.35 L576.38,222.17 L576.48,222.01 L576.59,221.85 L576.72,221.71 L576.86,221.57 L577.01,221.46 L577.17,221.35 L577.35,221.27 L577.53,221.20 L577.71,221.15 L578.13,221.05 L578.15,221.05 L578.71,220.91 L578.73,220.91 L579.29,220.76 L579.31,220.76 L579.86,220.60 L579.88,220.59 L580.44,220.42 L580.45,220.42 L581.00,220.24 L581.02,220.23 L581.57,220.05 L581.58,220.04 L582.13,219.84 L582.15,219.84 L582.68,219.63 L582.70,219.62 L583.24,219.40 L583.25,219.39 L583.79,219.17 L583.80,219.16 L584.33,218.92 L584.35,218.91 L584.87,218.66 L584.88,218.66 L585.40,218.40 L585.42,218.39 L585.93,218.12 L585.95,218.11 L586.46,217.84 L586.47,217.83 L586.97,217.54 L586.99,217.53 L587.49,217.24 L587.50,217.23 L588.00,216.92 L588.01,216.91 L588.50,216.60 L588.51,216.59 L588.99,216.27 L589.01,216.26 L589.48,215.93 L589.50,215.92 L589.96,215.58 L589.98,215.56 L590.44,215.22 L590.46,215.20 L590.91,214.85 L590.92,214.84 L591.37,214.47 L591.39,214.46 L591.83,214.09 L591.84,214.07 L592.28,213.69 L592.29,213.68 L592.72,213.29 L592.73,213.28 L593.15,212.88 L593.16,212.87 L593.58,212.46 L593.59,212.45 L593.99,212.03 L594.01,212.02 L594.40,211.60 L594.42,211.59 L594.54,211.46 L594.67,211.32 L594.82,211.20 L594.98,211.09 L595.15,211.00 L595.33,210.92 L595.52,210.87 L595.71,210.83 L595.90,210.81 L596.09,210.80 L596.29,210.82 L596.48,210.86 L596.66,210.91 L596.84,210.98 L597.02,211.07 L605.84,216.16 L606.00,216.27 L606.15,216.39 L606.29,216.52 L606.41,216.67 L606.53,216.82 L606.62,216.99 L606.70,217.17 L606.76,217.35 L606.80,217.54 L606.83,217.73 L606.84,217.92 L606.83,218.11 L606.80,218.30 L606.75,218.49 L606.68,218.67 L606.60,218.84 L606.50,219.01 L606.38,219.16 L606.28,219.29 L606.26,219.32 L605.73,219.93 L605.71,219.96 L605.18,220.56 L605.15,220.59 L604.61,221.19 L604.58,221.21 L604.03,221.80 L604.00,221.83 L603.44,222.40 L603.41,222.43 L602.83,222.99 L602.81,223.02 L602.22,223.57 L602.19,223.59 L601.60,224.14 L601.57,224.16 L600.96,224.69 L600.94,224.72 L600.32,225.24 L600.29,225.26 L599.67,225.77 L599.64,225.79 L599.00,226.29 L598.97,226.31 L598.33,226.80 L598.30,226.82 L597.65,227.30 L597.62,227.32 L596.96,227.78 L596.93,227.80 L596.26,228.25 L596.23,228.27 L595.55,228.71 L595.52,228.73 L594.83,229.16 L594.80,229.17 L594.11,229.59 L594.08,229.61 L593.38,230.01 L593.35,230.02 L592.64,230.41 L592.61,230.43 L591.89,230.80 L591.86,230.82 L591.14,231.18 L591.11,231.20 L590.38,231.55 L590.35,231.56 L589.61,231.90 L589.58,231.91 L588.84,232.23 L588.80,232.25 L588.06,232.56 L588.02,232.57 L587.27,232.86 L587.24,232.88 L586.48,233.16 L586.45,233.17 L585.69,233.44 L585.65,233.45 L584.89,233.70 L584.85,233.71 L584.08,233.95 L584.05,233.96 L583.27,234.18 L583.24,234.19 L582.46,234.40 L582.42,234.41 L582.18,234.47 L582.00,234.51 L581.81,234.53 L581.62,234.53 L581.43,234.52 L581.24,234.48 L581.06,234.43 L580.88,234.36 L580.72,234.28 L580.55,234.18 L580.40,234.06 L580.27,233.93 L580.14,233.79 L580.03,233.64 L577.62,229.99 L577.52,229.82 L577.44,229.64 L577.37,229.46 L577.32,229.27 L576.19,223.48 Z" stroke="#2b2323" stroke-width="1.15" fill="none" />
<circle cx="611.94" cy="165.95" r="5.0" stroke="#2b2323" stroke-width="1.9" fill="#fff"/>
<circle cx="611.94" cy="165.95" r="2.9" stroke="#8a8484" stroke-width="0.9" fill="none"/>
<circle cx="529.66" cy="165.95" r="5.0" stroke="#2b2323" stroke-width="1.9" fill="#fff"/>
<circle cx="529.66" cy="165.95" r="2.9" stroke="#8a8484" stroke-width="0.9" fill="none"/>
<circle cx="570.8" cy="237.2" r="5.0" stroke="#2b2323" stroke-width="1.9" fill="#fff"/>
<circle cx="570.8" cy="237.2" r="2.9" stroke="#8a8484" stroke-width="0.9" fill="none"/>
<circle cx="616.3" cy="115.4" r="6.75" stroke="#2b2323" stroke-width="2.7" fill="#fff"/>
<circle cx="616.3" cy="115.4" r="5.0" stroke="#8f8989" stroke-width="0.8" fill="none"/>
<polygon points="616.30,111.70 619.50,113.55 619.50,117.25 616.30,119.10 613.10,117.25 613.10,113.55" fill="none" stroke="#2b2323" stroke-width="0.85"/>
<circle cx="496" cy="143.7" r="6.75" stroke="#2b2323" stroke-width="2.7" fill="#fff"/>
<circle cx="496" cy="143.7" r="5.0" stroke="#8f8989" stroke-width="0.8" fill="none"/>
<polygon points="496.00,140.00 499.20,141.85 499.20,145.55 496.00,147.40 492.80,145.55 492.80,141.85" fill="none" stroke="#2b2323" stroke-width="0.85"/>
<circle cx="525" cy="264.6" r="6.75" stroke="#2b2323" stroke-width="2.7" fill="#fff"/>
<circle cx="525" cy="264.6" r="5.0" stroke="#8f8989" stroke-width="0.8" fill="none"/>
<polygon points="525.00,260.90 528.20,262.75 528.20,266.45 525.00,268.30 521.80,266.45 521.80,262.75" fill="none" stroke="#2b2323" stroke-width="0.85"/>
<circle cx="645" cy="235.6" r="6.75" stroke="#2b2323" stroke-width="2.7" fill="#fff"/>
<circle cx="645" cy="235.6" r="5.0" stroke="#8f8989" stroke-width="0.8" fill="none"/>
<polygon points="645.00,231.90 648.20,233.75 648.20,237.45 645.00,239.30 641.80,237.45 641.80,233.75" fill="none" stroke="#2b2323" stroke-width="0.85"/>
<line x1="494.8" y1="113.7" x2="513.8" y2="132.7" stroke="#a0a0a0" stroke-width="1.3" />
<line x1="494.8" y1="132.7" x2="513.8" y2="113.7" stroke="#a0a0a0" stroke-width="1.3" />
<circle cx="504.3" cy="123.2" r="6" stroke="#2b2323" stroke-width="1.05" fill="none"/>
<line x1="500.3" y1="119.2" x2="508.3" y2="127.2" stroke="#6a6a6a" stroke-width="0.9" />
<line x1="500.3" y1="127.2" x2="508.3" y2="119.2" stroke="#6a6a6a" stroke-width="0.9" />
<line x1="627.7" y1="113.8" x2="646.7" y2="132.8" stroke="#a0a0a0" stroke-width="1.3" />
<line x1="627.7" y1="132.8" x2="646.7" y2="113.8" stroke="#a0a0a0" stroke-width="1.3" />
<circle cx="637.2" cy="123.3" r="6" stroke="#2b2323" stroke-width="1.05" fill="none"/>
<line x1="633.2" y1="119.3" x2="641.2" y2="127.3" stroke="#6a6a6a" stroke-width="0.9" />
<line x1="633.2" y1="127.3" x2="641.2" y2="119.3" stroke="#6a6a6a" stroke-width="0.9" />
<line x1="494.6" y1="246.8" x2="513.6" y2="265.8" stroke="#a0a0a0" stroke-width="1.3" />
<line x1="494.6" y1="265.8" x2="513.6" y2="246.8" stroke="#a0a0a0" stroke-width="1.3" />
<circle cx="504.1" cy="256.3" r="6" stroke="#2b2323" stroke-width="1.05" fill="none"/>
<line x1="500.1" y1="252.3" x2="508.1" y2="260.3" stroke="#6a6a6a" stroke-width="0.9" />
<line x1="500.1" y1="260.3" x2="508.1" y2="252.3" stroke="#6a6a6a" stroke-width="0.9" />
<line x1="627.4" y1="246.60000000000002" x2="646.4" y2="265.6" stroke="#a0a0a0" stroke-width="1.3" />
<line x1="627.4" y1="265.6" x2="646.4" y2="246.60000000000002" stroke="#a0a0a0" stroke-width="1.3" />
<circle cx="636.9" cy="256.1" r="6" stroke="#2b2323" stroke-width="1.05" fill="none"/>
<line x1="632.9" y1="252.10000000000002" x2="640.9" y2="260.1" stroke="#6a6a6a" stroke-width="0.9" />
<line x1="632.9" y1="260.1" x2="640.9" y2="252.10000000000002" stroke="#6a6a6a" stroke-width="0.9" />
<path d="M495.08,133.67 A94.2,94.2 0 0 1 545.15,99.06" stroke="#a0a0a0" stroke-width="1.3" fill="none" />
<path d="M597.55,280.02 A94.2,94.2 0 0 0 642.96,250.25" stroke="#a0a0a0" stroke-width="1.3" fill="none" />
<line x1="541" y1="102.7" x2="620" y2="331.5" stroke="#a0a0a0" stroke-width="1.35" />
<polygon points="541.00,102.70 546.88,111.78 541.97,113.47" fill="#7a7a7a"/>
<polygon points="599.70,273.50 593.82,264.42 598.73,262.73" fill="#7a7a7a"/>
<text x="610.3" y="293.8" font-size="16.8" fill="#1c1515" text-anchor="start" textLength="40" lengthAdjust="spacingAndGlyphs" transform="rotate(71 610.3 293.8)" >Ø145</text>
<g transform="rotate(71 610.3 293.8)"><rect x="623.79" y="291.87" width="3.27" height="2.15" fill="#fff"/><rect x="628.66" y="291.87" width="3.14" height="2.15" fill="#fff"/></g>
<path d="M592,78.6 H634.6 L636.8,116.5" stroke="#a0a0a0" stroke-width="1.3" fill="none" />
<polygon points="636.80,116.50 633.70,107.16 638.80,106.87" fill="#7a7a7a"/>
<path d="M544.7,274 V303.7 H597 V274" stroke="#2b2323" stroke-width="1.2" fill="none" />
<line x1="544.2" y1="274.9" x2="597.5" y2="274.9" stroke="#2b2323" stroke-width="1.8" />
<line x1="544.3" y1="289.9" x2="597" y2="289.9" stroke="#2b2323" stroke-width="1.1" />
<path d="M557.7,274.6 L550.2,289.9 M584.7,274.6 L591.4,289.9" stroke="#2b2323" stroke-width="1.1" fill="none" />
<path d="M549.9000000000001,303.3 H591.5 Q593.5,303.3 593.5,305.8 Q593.5,308.3 591.5,308.3 H549.9000000000001 Q547.9000000000001,308.3 547.9000000000001,305.8 Q547.9000000000001,303.3 549.9000000000001,303.3 Z" stroke="#2b2323" stroke-width="1.2" fill="#fff" />
<line x1="553.4000000000001" y1="303.90000000000003" x2="553.4000000000001" y2="307.7" stroke="#2b2323" stroke-width="1" />
<line x1="588.0" y1="303.90000000000003" x2="588.0" y2="307.7" stroke="#2b2323" stroke-width="1" />
<path d="M550.2,308.3 Q550.2,311.3 553.2,311.3 Q556.2,311.3 556.2,308.3" stroke="#2b2323" stroke-width="1.1" fill="none" />
<path d="M585.2,308.3 Q585.2,311.3 588.2,311.3 Q591.2,311.3 591.2,308.3" stroke="#2b2323" stroke-width="1.1" fill="none" />
<path d="M552.2,310.8 V321.9 H589.2 V310.8" stroke="#2b2323" stroke-width="1.2" fill="none" />
<path d="M554.7,321.9 H586.7 Q588.5,321.9 588.5,323.7 V331.3 Q588.5,333.1 586.7,333.1 H554.7 Q552.9000000000001,333.1 552.9000000000001,331.3 V323.7 Q552.9000000000001,321.9 554.7,321.9 Z" stroke="#2b2323" stroke-width="1.4" fill="#fff" />
<path d="M554.5,326.8 Q562.0,323.3 570.0,323.3 M554.5,331.5 Q562.0,326.5 570.0,325.3 M565.0,333 Q579.0,330 588.0,324.2 M576.0,333 Q584.0,331.5 588.0,328.8" stroke="#2b2323" stroke-width="1.1" fill="none" />
<line x1="570.8" y1="96" x2="570.8" y2="346" stroke="#ababab" stroke-width="1.2" stroke-dasharray="15.2 4.3 2.7 3.55" stroke-dashoffset="2.65"/>
<circle cx="570.5" cy="400.8" r="17" stroke="#2b2323" stroke-width="1.2" fill="none"/>
<line x1="532.4" y1="400.8" x2="607" y2="400.8" stroke="#ababab" stroke-width="1.2" stroke-dasharray="15.2 4.3 2.7 3.55" stroke-dashoffset="25.25"/>
<line x1="570.5" y1="376.8" x2="570.5" y2="434" stroke="#ababab" stroke-width="1.2" stroke-dasharray="15.2 4.3 2.7 3.55"/>
<line x1="535.4" y1="423.6" x2="656.8" y2="346.1" stroke="#a0a0a0" stroke-width="1.35" />
<polygon points="554.90,411.10 547.45,418.94 544.65,414.56" fill="#7a7a7a"/>
<polygon points="586.10,391.20 593.55,383.36 596.35,387.74" fill="#7a7a7a"/>
<text x="609.3" y="375.8" font-size="17.5" fill="#1c1515" text-anchor="start" textLength="51" lengthAdjust="spacingAndGlyphs" transform="rotate(-32.6 609.3 375.8)" >φ 22h6</text>
<text x="505.8" y="456.2" font-size="18.5" fill="#1c1515" text-anchor="start" textLength="132.5" lengthAdjust="spacingAndGlyphs" >SHAFT EXTENSION</text>
</svg></body></html>
